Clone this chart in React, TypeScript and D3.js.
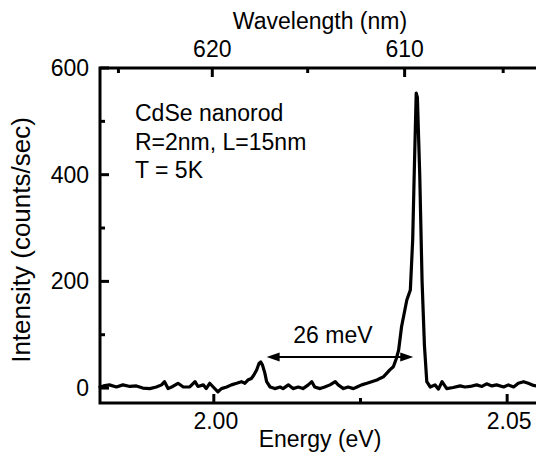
import React from "react";
import * as d3 from "d3";

const energy = [
  1.9806, 1.9812, 1.9822, 1.9834, 1.9845, 1.9857, 1.9868, 1.9879, 1.9891, 1.9902,
  1.9911, 1.9916, 1.9922, 1.993, 1.9939, 1.9948, 1.9959, 1.9968, 1.9973, 1.9982,
  1.9987, 1.9993, 1.9999, 2.0007, 2.0013, 2.0022, 2.003, 2.0039, 2.0047, 2.0053,
  2.0058, 2.0064, 2.0068, 2.0073, 2.0077, 2.008, 2.0083, 2.0087, 2.009, 2.0096,
  2.0104, 2.0113, 2.0118, 2.0127, 2.0135, 2.0144, 2.0152, 2.0161, 2.0167, 2.0172,
  2.0181, 2.0189, 2.0198, 2.0207, 2.0212, 2.0221, 2.0229, 2.0238, 2.0244, 2.0252,
  2.0261, 2.0269, 2.0278, 2.0283, 2.0289, 2.0295, 2.03, 2.0306, 2.0311, 2.0315,
  2.032, 2.0329, 2.0335, 2.0339, 2.0342, 2.0345, 2.0347, 2.0351, 2.0355, 2.0359,
  2.0363, 2.0369, 2.0377, 2.0383, 2.0389, 2.0397, 2.0408, 2.042, 2.0428, 2.0437,
  2.0448, 2.0457, 2.0465, 2.0474, 2.0482, 2.0494, 2.0502, 2.0511, 2.0519, 2.0528,
  2.0536, 2.0545, 2.0556, 2.0573,
];

const intensity = [
  2, 4, 6, 2, 6, 3, 4, 0, -1, 2,
  6, 12, -1, 3, 9, 2, 2, 12, 3, 6,
  -1, 9, 2, -7, -1, 2, 6, 9, 12, 9,
  15, 18, 24, 34, 46, 49, 43, 28, 12, 2,
  -1, 2, -1, 6, -1, 2, -1, 6, 12, 2,
  -1, 2, 6, 12, 6, -1, 2, -1, 2, 6,
  9, 12, 15, 18, 21, 28, 34, 40, 55, 71,
  115, 165, 184, 278, 420, 553, 545, 400, 200, 80,
  12, 2, 6, -2, 12, -1, 1, 4, 2, 3,
  6, 3, 8, 4, 6, 2, 6, 2, 9, 12,
  9, 5, 3, 6,
];

const yMajorTicks = [0, 200, 400, 600];
const yMinorTicks = [100, 300, 500];
const xMajorTicks = [2.0, 2.05];
const xMinorTicks = [2.025];
const wlMajorTicks = [620, 610];
const wlMinorTicks = [625, 615, 605];
const annotationLines = ["CdSe nanorod", "R=2nm, L=15nm", "T = 5K"];
const arrowStart = 2.009;
const arrowEnd = 2.034;
const arrowLevel = 58;
const arrowLabel = "26 meV";
const HC = 1239.84;

export default function App() {
  const left = 100, right = 540, top = 68, bottom = 403;
  const x = d3.scaleLinear().domain([1.9806, 2.0556]).range([left, right]);
  const y = d3.scaleLinear().domain([-28, 600]).range([bottom, top]);
  const pts = energy.map((e, i) => [e, intensity[i]] as [number, number]);
  const line = d3.line<[number, number]>().x(d => x(d[0])).y(d => y(d[1]));
  const font = "'Liberation Sans', Arial, Helvetica, sans-serif";
  const fs = 23;
  const ay = y(arrowLevel);
  const ax1 = x(arrowStart), ax2 = x(arrowEnd);
  const ah = 13, aw = 4.5;

  return (
    <svg width={536} height={456} style={{ position: "absolute", left: 0, top: 0, background: "#fff" }}
      fontFamily={font} fontSize={fs}>
      <rect x={0} y={0} width={536} height={456} fill="#fff" />
      {/* spectrum */}
      <path d={line(pts) || ""} fill="none" stroke="#000" strokeWidth={3.2} strokeLinejoin="round" strokeLinecap="round" />
      {/* frame */}
      <rect x={left} y={top} width={right - left} height={bottom - top} fill="none" stroke="#000" strokeWidth={3} />
      {/* left ticks */}
      {yMajorTicks.map(t => (
        <g key={"ym" + t}>
          <line x1={left} x2={left + 9} y1={y(t)} y2={y(t)} stroke="#000" strokeWidth={3} />
          <text x={left - 11} y={y(t)} textAnchor="end" dominantBaseline="central">{t}</text>
        </g>
      ))}
      {yMinorTicks.map(t => (
        <line key={"yn" + t} x1={left} x2={left + 5} y1={y(t)} y2={y(t)} stroke="#000" strokeWidth={3} />
      ))}
      {/* bottom ticks */}
      {xMajorTicks.map(t => (
        <g key={"xm" + t}>
          <line x1={x(t)} x2={x(t)} y1={bottom} y2={bottom - 9} stroke="#000" strokeWidth={3} />
          <text x={x(t) + 2} y={bottom + 26} textAnchor="middle">{t.toFixed(2)}</text>
        </g>
      ))}
      {xMinorTicks.map(t => (
        <line key={"xn" + t} x1={x(t)} x2={x(t)} y1={bottom} y2={bottom - 5} stroke="#000" strokeWidth={3} />
      ))}
      {/* top wavelength ticks */}
      {wlMajorTicks.map(t => (
        <g key={"wm" + t}>
          <line x1={x(HC / t)} x2={x(HC / t)} y1={top} y2={top + 9} stroke="#000" strokeWidth={3} />
          <text x={x(HC / t)} y={top - 11} textAnchor="middle">{t}</text>
        </g>
      ))}
      {wlMinorTicks.map(t => (
        <line key={"wn" + t} x1={x(HC / t)} x2={x(HC / t)} y1={top} y2={top + 5} stroke="#000" strokeWidth={3} />
      ))}
      {/* axis titles */}
      <text x={(left + right) / 2} y={447} textAnchor="middle">Energy (eV)</text>
      <text x={(left + right) / 2} y={29} textAnchor="middle">Wavelength (nm)</text>
      <text transform={`translate(30,240) rotate(-90)`} textAnchor="middle" fontSize={26}>Intensity (counts/sec)</text>
      {/* annotation */}
      {annotationLines.map((s, i) => (
        <text key={s} x={135} y={121 + i * 28.5}>{s}</text>
      ))}
      {/* arrow */}
      <line x1={ax1 + ah - 2} x2={ax2 - ah + 2} y1={ay} y2={ay} stroke="#000" strokeWidth={2} />
      <path d={`M${ax1},${ay} L${ax1 + ah},${ay - aw} L${ax1 + ah},${ay + aw} Z`} fill="#000" />
      <path d={`M${ax2},${ay} L${ax2 - ah},${ay - aw} L${ax2 - ah},${ay + aw} Z`} fill="#000" />
      <text x={x(2.0203)} y={y(84)} textAnchor="middle">{arrowLabel}</text>
    </svg>
  );
}
